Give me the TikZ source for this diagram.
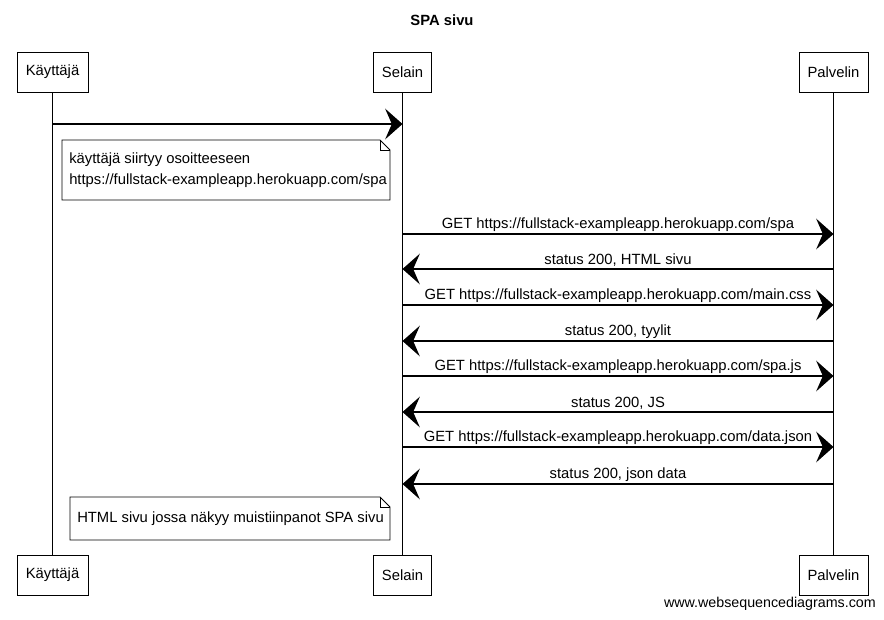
\documentclass[tikz,border=0pt]{standalone}
\usepackage{fontspec}
\setmainfont{Liberation Sans}
\usetikzlibrary{arrows.meta,calc}
\begin{document}
\begin{tikzpicture}[x=0.75pt,y=-0.75pt,
  txt/.style={font=\fontsize{11.1}{13}\selectfont},
  actor/.style={draw, line width=0.6pt, fill=white, minimum height=30pt, inner xsep=6.5pt, txt},
  life/.style={line width=0.6pt},
  msg/.style={line width=0.9pt, -{Stealth[length=13pt,width=23pt,inset=5pt]}},
  lab/.style={txt, inner sep=1.5pt, anchor=south},
  notebox/.style={txt, inner sep=0pt, align=left, anchor=west},
  notedraw/.style={line width=0.6pt, fill=white}
]
\useasboundingbox (0,0) rectangle (884,619);
\fill[white] (0,0) rectangle (884,619);

\node[font=\fontsize{11.1}{13}\selectfont\bfseries] (title) at (442,20) {SPA sivu};

% participants
\node[actor] (kt) at (52.5,72) {Käyttäjä};
\node[actor] (se) at (402.5,72) {Selain};
\node[actor] (pa) at (833.5,72) {Palvelin};
\node[actor] (kb) at (52.5,575) {Käyttäjä};
\node[actor] (sb) at (402.5,575) {Selain};
\node[actor] (pb) at (833.5,575) {Palvelin};

\draw[life] (kt.south) -- (kb.north);
\draw[life] (se.south) -- (sb.north);
\draw[life] (pa.south) -- (pb.north);

% y levels
\coordinate (y1) at (0,124);
\coordinate (y3) at (0,234);
\coordinate (y4) at (0,269);
\coordinate (y5) at (0,305);
\coordinate (y6) at (0,341);
\coordinate (y7) at (0,376);
\coordinate (y8) at (0,412);
\coordinate (y9) at (0,447);
\coordinate (y10) at (0,484);

\draw[msg] (kt |- y1) -- (se |- y1);

% note 1
\path[notedraw,draw] (62,140) -- (380,140) -- (390,150) -- (390,200) -- (62,200) -- cycle;
\draw[line width=0.6pt] (380,140) -- (380,150) -- (390,150);
\node[notebox] (n1) at (69,170) {käyttäjä siirtyy osoitteeseen\\[3pt]https://fullstack-exampleapp.herokuapp.com/spa};

\draw[msg] (se |- y3) -- node[lab] {GET https://fullstack-exampleapp.herokuapp.com/spa} (pa |- y3);
\draw[msg] (pa |- y4) -- node[lab] {status 200, HTML sivu} (se |- y4);
\draw[msg] (se |- y5) -- node[lab] {GET https://fullstack-exampleapp.herokuapp.com/main.css} (pa |- y5);
\draw[msg] (pa |- y6) -- node[lab] {status 200, tyylit} (se |- y6);
\draw[msg] (se |- y7) -- node[lab] {GET https://fullstack-exampleapp.herokuapp.com/spa.js} (pa |- y7);
\draw[msg] (pa |- y8) -- node[lab] {status 200, JS} (se |- y8);
\draw[msg] (se |- y9) -- node[lab] {GET https://fullstack-exampleapp.herokuapp.com/data.json} (pa |- y9);
\draw[msg] (pa |- y10) -- node[lab] {status 200, json data} (se |- y10);

% note 2
\path[notedraw,draw] (70,497) -- (380,497) -- (390,507) -- (390,540) -- (70,540) -- cycle;
\draw[line width=0.6pt] (380,497) -- (380,507) -- (390,507);
\node[notebox] (n2) at (77,519) {HTML sivu jossa näkyy muistiinpanot SPA sivu};

\node[font=\fontsize{10.7}{12}\selectfont, anchor=east, inner sep=0pt] (wm) at (876,604) {www.websequencediagrams.com};
\end{tikzpicture}
\end{document}
